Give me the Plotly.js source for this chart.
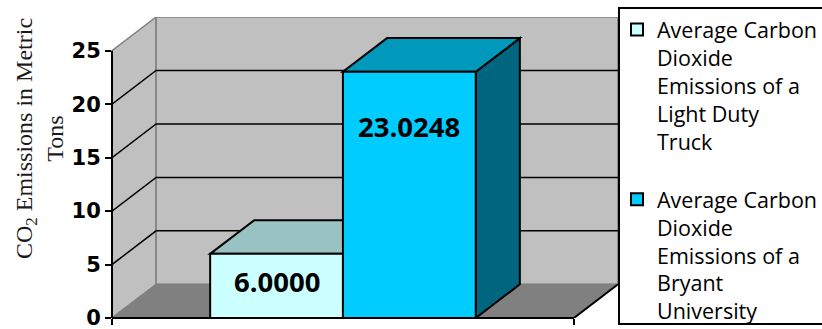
<!DOCTYPE html>
<html><head><meta charset="utf-8">
<script src="https://cdn.plot.ly/plotly-3.0.1.min.js"></script>
<style>html,body{margin:0;padding:0;background:#fff;} .scrollbar{display:none !important;}</style>
</head><body><div id="chart" style="width:822px;height:329px;"></div>
<script>
// ---- data ----
const categories = ['CO2 Emissions'];
const seriesNames = [
  'Average Carbon<br>Dioxide<br>Emissions of a<br>Light Duty<br>Truck',
  'Average Carbon<br>Dioxide<br>Emissions of a<br>Bryant<br>University'
];
const values = [6.0000, 23.0248];
const yTicks = [0, 5, 10, 15, 20, 25];
const gridValues = [5, 10, 15, 20];
const yTitle = 'CO<sub>2</sub> Emissions in Metric<br>Tons';

// ---- style ----
const frontColors = ['#CCFFFF', '#00CCFF'];
const topColors = ['#99C2C2', '#0099BB'];
const sideColors = ['#7FA3A3', '#006680'];
const BARGAP = 0.425;
const DX = 0.0955, DY = 3.15;   // 3-D depth offset in axis units
const YTOP = 25;
const labelY = [3.4, 17.9];

const groupW = 1 - BARGAP;
const barW = groupW / values.length;
const xIdx = categories.map((c, j) => j);

const traces = values.map((v, i) => ({
  type: 'bar', x: xIdx, y: [v], name: seriesNames[i],
  width: [barW], offset: [-groupW / 2 + i * barW],
  marker: {color: frontColors[i], line: {color: '#000', width: 2}},
  legendgroup: 'g' + i, hoverinfo: 'skip'
}));

const shapes = [];
const L = -0.5, R = 0.5;
// side wall
shapes.push({type: 'path', layer: 'below', xref: 'x', yref: 'y',
  path: `M${L},0 L${L},${YTOP} L${L + DX},${YTOP + DY} L${L + DX},${DY} Z`,
  fillcolor: '#C0C0C0', line: {color: '#808080', width: 1.5}});
// back wall
shapes.push({type: 'rect', layer: 'below', xref: 'x', yref: 'y',
  x0: L + DX, x1: R + DX, y0: DY, y1: YTOP + DY,
  fillcolor: '#C0C0C0', line: {color: '#808080', width: 1.5}});
// floor
shapes.push({type: 'path', layer: 'below', xref: 'x', yref: 'y',
  path: `M${L},0 L${R},0 L${R + DX},${DY} L${L + DX},${DY} Z`,
  fillcolor: '#808080', line: {color: '#808080', width: 1}});
// gridlines
gridValues.forEach(v => shapes.push({type: 'path', layer: 'below', xref: 'x', yref: 'y',
  path: `M${L},${v} L${L + DX},${v + DY} L${R + DX},${v + DY}`,
  line: {color: '#000', width: 1.5}}));
// bar side & top faces
values.forEach((v, i) => {
  const x0 = xIdx[0] - groupW / 2 + i * barW, x1 = x0 + barW;
  shapes.push({type: 'path', layer: 'below', xref: 'x', yref: 'y',
    path: `M${x1},0 L${x1},${v} L${x1 + DX},${v + DY} L${x1 + DX},${DY} Z`,
    fillcolor: sideColors[i], line: {color: '#000', width: 2}});
  shapes.push({type: 'path', layer: 'below', xref: 'x', yref: 'y',
    path: `M${x0},${v} L${x1},${v} L${x1 + DX},${v + DY} L${x0 + DX},${v + DY} Z`,
    fillcolor: topColors[i], line: {color: '#000', width: 2}});
});
// front floor edge, right floor edge, value axis line
shapes.push({type: 'line', layer: 'above', xref: 'x', yref: 'paper', x0: L, x1: R, y0: 0, y1: 0,
  line: {color: '#000', width: 2}});
shapes.push({type: 'line', layer: 'above', xref: 'x', yref: 'y', x0: R, y0: 0, x1: R + DX, y1: DY,
  line: {color: '#000', width: 2}});
shapes.push({type: 'line', layer: 'above', xref: 'paper', yref: 'y', x0: 0, x1: 0, y0: 0, y1: YTOP,
  line: {color: '#000', width: 2}});

const annotations = values.map((v, i) => ({
  xref: 'x', yref: 'y', x: xIdx[0] - groupW / 2 + (i + 0.5) * barW, y: labelY[i],
  text: v.toFixed(4), showarrow: false, xanchor: 'center', yanchor: 'middle',
  font: {family: 'Open Sans', size: 27.5, color: '#000', weight: 'bold'}
}));
annotations.push({xref: 'paper', yref: 'paper', x: -0.1443, y: 0.598, textangle: -90,
  text: yTitle, showarrow: false, xanchor: 'center', yanchor: 'middle',
  font: {family: 'Liberation Serif', size: 24, color: '#1a1a1a'}});

const layout = {
  width: 822, height: 329,
  margin: {l: 112, r: 204, t: 17, b: 11, pad: 0, autoexpand: false},
  paper_bgcolor: '#fff', plot_bgcolor: '#fff',
  showlegend: true,
  legend: {x: 1, y: 1.0332, xanchor: 'left', yanchor: 'top', bgcolor: '#fff',
    bordercolor: '#000', borderwidth: 2, valign: 'top', tracegroupgap: 27,
    maxheight: 318, traceorder: 'grouped', indentation: -3,
    font: {family: 'Open Sans', size: 21.5, color: '#000'}},
  xaxis: {range: [L, R + DX], tickmode: 'array', tickvals: [L, R], showticklabels: false,
    ticks: 'outside', ticklen: 6, tickwidth: 2, tickcolor: '#000',
    showline: false, showgrid: false, zeroline: false, fixedrange: true},
  yaxis: {range: [0, YTOP + DY], tickmode: 'array', tickvals: yTicks,
    ticks: 'outside', ticklen: 6, tickwidth: 2, tickcolor: '#000', ticklabeloverflow: 'allow',
    tickfont: {family: 'DejaVu Sans', size: 21, color: '#000', weight: 'bold'},
    showline: false, showgrid: false, zeroline: false, fixedrange: true},
  shapes: shapes, annotations: annotations, bargap: BARGAP
};
Plotly.newPlot('chart', traces, layout, {staticPlot: true, displayModeBar: false});
</script></body></html>
